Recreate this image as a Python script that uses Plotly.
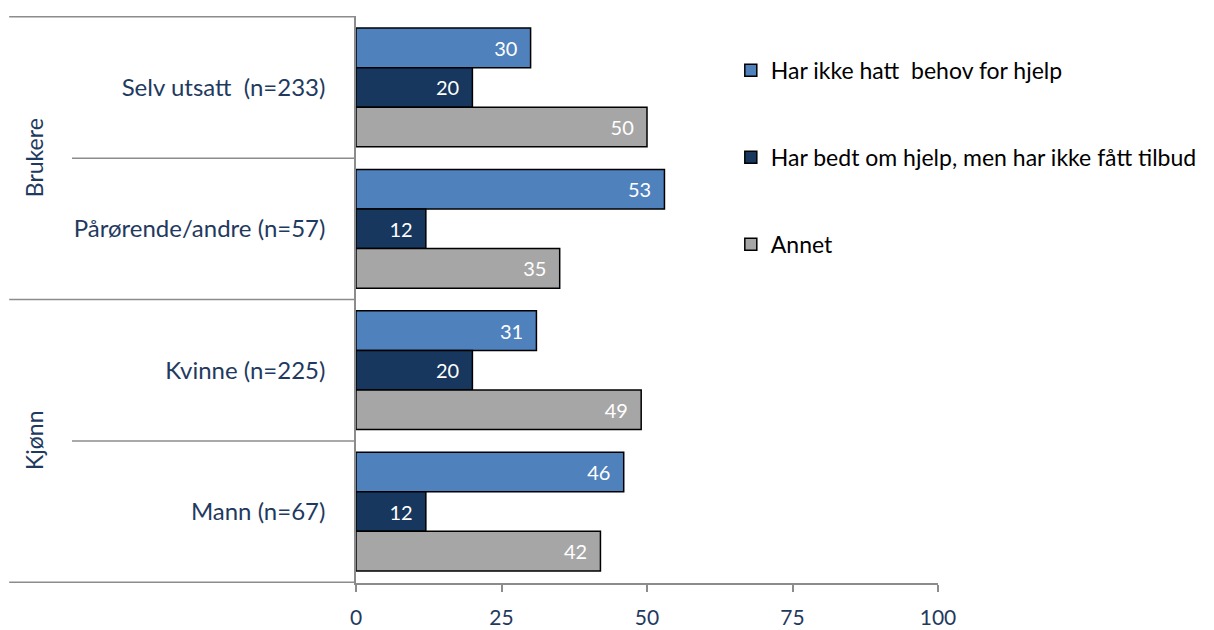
import plotly.graph_objects as go

categories = ["Selv utsatt  (n=233)", "Pårørende/andre (n=57)", "Kvinne (n=225)", "Mann (n=67)"]
series_names = ["Har ikke hatt  behov for hjelp", "Har bedt om hjelp, men har ikke fått tilbud", "Annet"]
s_ikke_behov = [30, 53, 31, 46]
s_bedt = [20, 12, 20, 12]
s_annet = [50, 35, 49, 42]
groups = ["Brukere", "Kjønn"]
x_ticks = [0, 25, 50, 75, 100]

colors = ["#4F81BD", "#17375E", "#A6A6A6"]
txtcol = "#1F3A60"
font_family = "Lato, 'Open Sans', sans-serif"
pad = "\u00a0\u00a0"

fig = go.Figure()
for i, (name, vals) in enumerate(zip(series_names, [s_ikke_behov, s_bedt, s_annet])):
    fig.add_trace(go.Bar(
        y=categories, x=vals, name=name, orientation="h",
        marker=dict(color=colors[i], line=dict(color="#000000", width=1.5)),
        text=[f"{v}{pad}" for v in vals], textposition="inside", insidetextanchor="end",
        textfont=dict(color="white", size=20, family=font_family),
        constraintext="none", legendgroup=f"g{i}",
    ))

line_col = "#8C8C8C"
shapes = []
bounds = [-0.5, 0.5, 1.5, 2.5, 3.5]
x_left_full = -348 / 584
x_left_short = -285 / 584
for j, b in enumerate(bounds):
    x0 = x_left_full if j in (0, 2, 4) else x_left_short
    shapes.append(dict(type="line", xref="paper", yref="y", x0=x0, x1=0, y0=b, y1=b,
                       line=dict(color=line_col, width=1.5)))

annotations = []
for g, yc in zip(groups, [0.5, 2.5]):
    annotations.append(dict(text=g, xref="paper", yref="y", x=-323 / 584, y=yc,
                            xanchor="center", yanchor="middle",
                            textangle=-90, showarrow=False,
                            font=dict(size=23, color=txtcol, family=font_family)))

fig.update_layout(
    width=1214, height=630,
    margin=dict(l=356, r=274, t=16, b=47),
    paper_bgcolor="white", plot_bgcolor="white",
    barmode="group", bargap=0.16, bargroupgap=0,
    font=dict(family=font_family, size=24, color=txtcol),
    showlegend=True,
    legend=dict(x=0.644, y=0.942, xanchor="left", yanchor="top",
                font=dict(size=23, color="#000000", family=font_family),
                tracegroupgap=54, traceorder="grouped", bgcolor="rgba(0,0,0,0)",
                borderwidth=0),
    shapes=shapes, annotations=annotations,
)
fig.update_xaxes(range=[0, 100], tickvals=x_ticks, showgrid=False, zeroline=False,
                 showline=True, linecolor=line_col, linewidth=1.5,
                 ticks="outside", ticklen=7, tickcolor=line_col, tickwidth=1.5,
                 tickfont=dict(size=21, color=txtcol), ticklabelstandoff=8,
                 automargin=False)
fig.update_yaxes(autorange="reversed", showgrid=False, zeroline=False,
                 showline=True, linecolor=line_col, linewidth=1.5, ticks="",
                 tickfont=dict(size=24, color=txtcol), ticklabelstandoff=24,
                 automargin=False)

fig.write_html("out.html", post_script="document.body.style.margin='0px';",
               config={"displayModeBar": False})
